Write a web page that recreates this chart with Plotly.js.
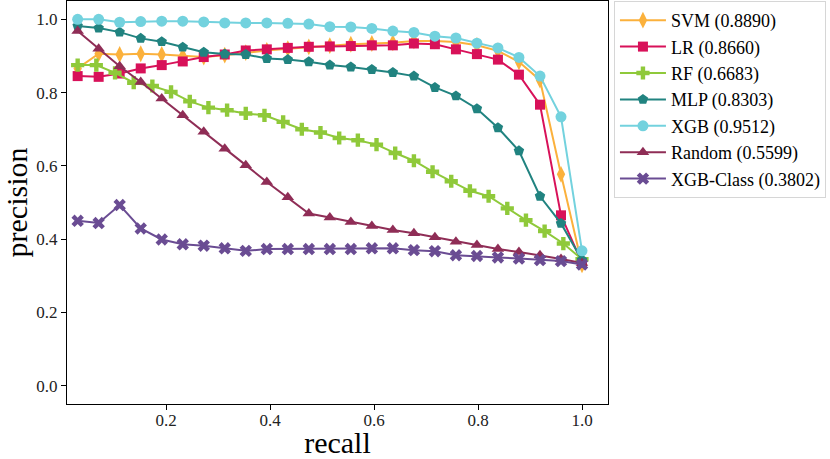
<!DOCTYPE html>
<html>
<head>
<meta charset="utf-8">
<script src="https://cdn.plot.ly/plotly-3.0.1.min.js"></script>
<style>
  html, body { margin: 0; padding: 0; background: #fff; }
  #chart { width: 830px; height: 459px; }
</style>
</head>
<body>
<div id="chart"></div>
<script>
// recall points (25 thresholds for most models, 28 for RF)
var recall = [0.03, 0.0704, 0.1108, 0.1513, 0.1917, 0.2321, 0.2725, 0.3129, 0.3533, 0.3938,
              0.4342, 0.4746, 0.515, 0.5554, 0.5958, 0.6362, 0.6767, 0.7171, 0.7575, 0.7979,
              0.8383, 0.8787, 0.9192, 0.9596, 1.0];
var recallRF = [0.03, 0.0659, 0.1019, 0.1378, 0.1737, 0.2096, 0.2456, 0.2815, 0.3174, 0.3533,
                0.3893, 0.4252, 0.4611, 0.497, 0.533, 0.5689, 0.6048, 0.6407, 0.6767, 0.7126,
                0.7485, 0.7844, 0.8204, 0.8563, 0.8922, 0.9281, 0.9641, 1.0];

var svm = [0.866, 0.906, 0.904, 0.906, 0.904, 0.900, 0.897, 0.902, 0.909, 0.915, 0.920, 0.925, 0.928,
           0.932, 0.934, 0.936, 0.941, 0.941, 0.938, 0.929, 0.914, 0.884, 0.834, 0.577, 0.330];
var lr = [0.845, 0.843, 0.852, 0.866, 0.875, 0.885, 0.897, 0.904, 0.915, 0.918, 0.922, 0.925, 0.926,
          0.927, 0.929, 0.929, 0.934, 0.932, 0.918, 0.905, 0.890, 0.849, 0.767, 0.465, 0.335];
var rf = [0.875, 0.875, 0.854, 0.827, 0.818, 0.802, 0.776, 0.759, 0.752, 0.743, 0.738, 0.720, 0.700, 0.691,
          0.676, 0.670, 0.658, 0.635, 0.614, 0.584, 0.558, 0.532, 0.517, 0.484, 0.452, 0.422, 0.388, 0.345];
var mlp = [0.982, 0.976, 0.965, 0.948, 0.939, 0.924, 0.910, 0.905, 0.904, 0.893, 0.890, 0.884, 0.875,
           0.870, 0.863, 0.855, 0.845, 0.814, 0.791, 0.756, 0.704, 0.641, 0.517, 0.443, 0.343];
var xgb = [1.0, 1.0, 0.992, 0.994, 0.995, 0.995, 0.993, 0.990, 0.990, 0.990, 0.989, 0.987, 0.980,
           0.979, 0.975, 0.968, 0.964, 0.954, 0.949, 0.935, 0.922, 0.896, 0.845, 0.734, 0.368];
var rnd = [0.968, 0.920, 0.872, 0.829, 0.784, 0.738, 0.693, 0.647, 0.602, 0.556, 0.514, 0.470, 0.459,
           0.447, 0.436, 0.425, 0.416, 0.405, 0.393, 0.384, 0.373, 0.365, 0.356, 0.346, 0.335];
var xgbClass = [0.450, 0.444, 0.493, 0.429, 0.399, 0.386, 0.382, 0.375, 0.368, 0.373, 0.373, 0.373, 0.373,
                0.373, 0.375, 0.375, 0.370, 0.367, 0.356, 0.354, 0.350, 0.347, 0.343, 0.340, 0.331];

var names = ['SVM (0.8890)', 'LR (0.8660)', 'RF (0.6683)', 'MLP (0.8303)',
             'XGB (0.9512)', 'Random (0.5599)', 'XGB-Class (0.3802)'];

var FONT = 'Liberation Serif, Times New Roman, serif';

function curve(x, y, name, color, symbol, size) {
    return {
        x: x, y: y, name: name, legendgroup: name,
        type: 'scatter', mode: 'lines+markers',
        line: { color: color, width: 2 },
        marker: { color: color, symbol: symbol, size: size, line: { width: 0 } }
    };
}

var traces = [
    curve(recall, svm, names[0], '#fbb13c', 'diamond-tall', 12),
    curve(recall, lr, names[1], '#d81159', 'square', 10),
    curve(recallRF, rf, names[2], '#8fc93a', 'cross', 11),
    curve(recall, mlp, names[3], '#218380', 'pentagon', 11),
    curve(recall, xgb, names[4], '#73d2de', 'circle', 11),
    curve(recall, rnd, names[5], '#8f2d56', 'triangle-up', 11),
    curve(recall, xgbClass, names[6], '#6a4c93', 'x', 11)
];

var layout = {
    width: 830, height: 459,
    margin: { l: 67, r: 222, t: 1, b: 55 },
    paper_bgcolor: '#fff', plot_bgcolor: '#fff',
    font: { family: FONT, size: 17, color: '#000' },
    showlegend: true,
    xaxis: {
        range: [0.0095, 1.05],
        tickvals: [0.2, 0.4, 0.6, 0.8, 1.0],
        ticktext: ['0.2', '0.4', '0.6', '0.8', '1.0'],
        ticks: 'outside', ticklen: 5, tickwidth: 1, tickcolor: '#000',
        ticklabelstandoff: -5,
        showline: true, linecolor: '#000', linewidth: 1.2, mirror: true,
        showgrid: false, zeroline: false,
        tickfont: { family: FONT, size: 17, color: '#222' },
        title: { text: 'recall', font: { family: FONT, size: 30, color: '#000' }, standoff: 17 }
    },
    yaxis: {
        range: [-0.05, 1.05],
        tickvals: [0, 0.2, 0.4, 0.6, 0.8, 1.0],
        ticktext: ['0.0', '0.2', '0.4', '0.6', '0.8', '1.0'],
        ticks: 'outside', ticklen: 5, tickwidth: 1, tickcolor: '#000',
        showline: true, linecolor: '#000', linewidth: 1.2, mirror: true,
        showgrid: false, zeroline: false,
        tickfont: { family: FONT, size: 17, color: '#222' },
        title: { text: 'precision', font: { family: FONT, size: 30, color: '#000' }, standoff: 6 }
    },
    legend: {
        x: 1.011, y: 1, xanchor: 'left', yanchor: 'top',
        bgcolor: '#fff', bordercolor: '#d6d6d6', borderwidth: 1,
        font: { family: FONT, size: 18, color: '#000' },
        traceorder: 'grouped', tracegroupgap: 0,
        itemwidth: 46
    }
};

Plotly.newPlot('chart', traces, layout, { displayModeBar: false, staticPlot: true });
</script>
</body>
</html>
